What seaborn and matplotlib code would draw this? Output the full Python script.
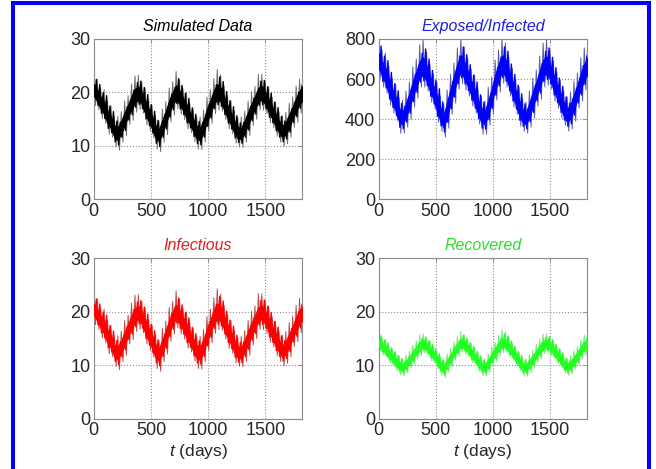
import numpy as np
import matplotlib
matplotlib.use('Agg')
import matplotlib.pyplot as plt
import matplotlib.patches as patches
import seaborn as sns

# time axis: samples every 30 days over five years
days = np.arange(0, 1831, 30)

# infectious counts (the simulated data are the observed infectious counts)
infectious_mid = [20.5, 19.3, 18.2, 17.0, 15.5, 14.3, 12.8, 12.2,
                  13.5, 15.0, 16.6, 18.0, 19.2, 19.8,
                  18.8, 17.2, 15.8, 14.3, 12.8, 12.0,
                  13.6, 15.4, 17.2, 18.8, 19.8,
                  19.0, 17.8, 16.5, 15.2, 13.8, 12.6, 12.1,
                  13.7, 15.5, 17.3, 18.9, 19.9,
                  19.3, 17.9, 16.5, 15.0, 13.6, 12.4, 12.2,
                  13.6, 15.1, 16.6, 18.0, 19.4, 19.8,
                  18.9, 17.5, 16.2, 14.9, 13.6, 12.6,
                  13.2, 14.6, 16.2, 17.6, 19.0, 19.8]
infectious_up = [2.8, 3.2, 2.6, 3.5, 2.9, 3.1, 2.7, 3.3,
                 2.9, 3.4, 2.8, 3.6, 3.9, 3.4,
                 3.1, 3.5, 2.8, 3.2, 2.9, 2.7,
                 3.3, 2.9, 3.6, 3.2, 4.1,
                 3.4, 3.0, 3.5, 2.8, 3.1, 2.9, 3.3,
                 3.0, 3.6, 3.2, 3.7, 4.4,
                 4.0, 3.3, 2.9, 3.4, 3.0, 2.8, 3.2,
                 2.9, 3.3, 3.5, 3.1, 4.0, 3.6,
                 3.2, 3.5, 2.9, 3.3, 2.8, 3.0,
                 3.1, 3.4, 3.0, 3.6, 3.5, 3.9]
infectious_down = [2.9, 2.6, 3.1, 2.8, 3.3, 2.7, 3.0, 3.0,
                   2.8, 3.1, 2.6, 3.2, 2.9, 3.0,
                   2.7, 3.2, 3.0, 2.8, 3.4, 3.1,
                   2.9, 3.3, 2.7, 3.0, 2.8,
                   3.1, 2.9, 3.3, 2.7, 3.0, 3.2, 2.8,
                   3.0, 2.7, 3.1, 2.9, 3.2,
                   2.8, 3.0, 3.3, 2.7, 3.1, 2.6, 2.5,
                   2.9, 3.2, 2.8, 3.0, 2.7, 3.1,
                   2.9, 3.2, 2.8, 3.1, 2.9, 2.7,
                   2.8, 3.0, 2.7, 3.2, 2.9, 3.6]

exposed_mid = [690, 650, 610, 565, 515, 470, 420, 400,
               440, 495, 545, 595, 640, 655,
               625, 575, 530, 480, 425, 390,
               445, 510, 575, 630, 668,
               640, 600, 555, 510, 460, 420, 405,
               455, 515, 575, 630, 665,
               650, 600, 555, 505, 455, 415, 400,
               445, 495, 545, 595, 645, 660,
               630, 585, 540, 495, 450, 415,
               435, 480, 535, 585, 630, 660]
exposed_up = [110, 95, 120, 100, 90, 105, 85, 95,
              100, 90, 115, 105, 130, 140,
              110, 100, 95, 105, 90, 85,
              100, 115, 105, 125, 135,
              120, 105, 95, 110, 90, 95, 85,
              105, 95, 120, 115, 140,
              130, 110, 100, 95, 105, 90, 85,
              95, 110, 100, 120, 135, 140,
              115, 105, 95, 100, 90, 95,
              100, 110, 95, 120, 125, 130]
exposed_down = [85, 90, 80, 95, 85, 75, 90, 70,
                80, 95, 85, 90, 80, 95,
                85, 90, 80, 95, 85, 80,
                90, 85, 95, 80, 90,
                95, 85, 90, 80, 85, 95, 80,
                85, 90, 80, 95, 85,
                90, 85, 95, 80, 90, 75, 70,
                85, 90, 80, 95, 85, 90,
                80, 95, 85, 90, 80, 75,
                85, 90, 80, 95, 85, 95]

recovered_mid = [14.3, 13.6, 12.9, 12.2, 11.4, 10.7, 10.0, 9.7,
                 10.2, 11.0, 11.9, 12.8, 13.6, 14.0,
                 13.5, 12.7, 11.9, 11.0, 10.0, 9.4,
                 10.3, 11.4, 12.5, 13.4, 14.1,
                 13.8, 13.1, 12.3, 11.5, 10.6, 9.9, 9.6,
                 10.4, 11.5, 12.5, 13.5, 14.1,
                 14.0, 13.3, 12.4, 11.5, 10.6, 9.8, 9.6,
                 10.3, 11.2, 12.1, 13.0, 13.8, 14.0,
                 13.6, 12.8, 12.0, 11.1, 10.3, 9.7,
                 10.1, 10.9, 11.9, 12.8, 13.6, 14.0]
recovered_up = [1.8, 1.6, 1.9, 1.5, 1.7, 1.6, 1.8, 1.5,
                1.7, 1.6, 1.9, 1.8, 2.1, 1.9,
                1.7, 1.8, 1.6, 1.7, 1.5, 1.6,
                1.8, 1.7, 1.9, 2.0, 2.2,
                1.9, 1.7, 1.8, 1.6, 1.7, 1.5, 1.6,
                1.7, 1.9, 1.8, 2.1, 2.6,
                2.2, 1.8, 1.7, 1.6, 1.8, 1.5, 1.6,
                1.7, 1.6, 1.8, 1.9, 2.0, 1.9,
                1.8, 1.7, 1.6, 1.8, 1.5, 1.6,
                1.7, 1.8, 1.6, 1.9, 2.0, 2.1]
recovered_down = [1.6, 1.7, 1.5, 1.8, 1.6, 1.7, 1.8, 1.7,
                  1.6, 1.5, 1.7, 1.6, 1.8, 1.7,
                  1.6, 1.8, 1.5, 1.7, 1.8, 1.7,
                  1.6, 1.7, 1.5, 1.8, 1.6,
                  1.7, 1.6, 1.8, 1.5, 1.7, 1.8, 1.6,
                  1.7, 1.5, 1.8, 1.6, 1.7,
                  1.6, 1.8, 1.5, 1.7, 1.6, 1.8, 1.7,
                  1.6, 1.7, 1.5, 1.8, 1.6, 1.7,
                  1.8, 1.6, 1.7, 1.5, 1.7, 1.6,
                  1.7, 1.6, 1.8, 1.5, 1.7, 1.9]

titles = ['Simulated Data', 'Exposed/Infected', 'Infectious', 'Recovered']
title_colors = ['#000000', '#1f1fdd', '#e81c1c', '#2be02b']
line_colors = ['#000000', '#0000ff', '#ff0000', '#22ff22']
spike_colors = ['#6e6e6e', '#5a5aa8', '#c04848', '#70ea70']
y_limits = [30, 800, 30, 30]
y_steps = [10, 200, 10, 10]

sns.set_style('white')
plt.rcParams['font.family'] = ['Liberation Sans', 'DejaVu Sans']
plt.rcParams['mathtext.fontset'] = 'custom'
plt.rcParams['mathtext.it'] = 'Liberation Sans:italic'
plt.rcParams['mathtext.rm'] = 'Liberation Sans'


def plot_noisy(ax, mid, up, down, color, spike_color):
    mid = np.array(mid, dtype=float)
    up = np.array(up, dtype=float)
    down = np.array(down, dtype=float)
    # outer spikes: zigzag between the upper and lower envelopes
    zx = np.column_stack([days, days + 15]).ravel()
    zy = np.column_stack([mid + up, mid - down]).ravel()
    sns.lineplot(x=zx, y=zy, ax=ax, sort=False, estimator=None,
                 color=spike_color, linewidth=0.7)
    # inner band: denser zigzag in the full colour, jagged edges
    cx = np.column_stack([days + 7, days + 22]).ravel()
    cy = np.column_stack([mid - 0.68 * down, mid + 0.68 * up]).ravel()
    sns.lineplot(x=cx, y=cy, ax=ax, sort=False, estimator=None,
                 color=color, linewidth=1.0)
    # solid middle
    ax.fill_between(days, mid - 0.38 * down, mid + 0.38 * up,
                    color=color, linewidth=0.8, edgecolor=color, zorder=3)


fig, axes = plt.subplots(2, 2, figsize=(6.56, 4.69), dpi=100)
fig.subplots_adjust(left=0.143, right=0.895, bottom=0.107, top=0.917,
                    wspace=0.365, hspace=0.368)

series = [(infectious_mid, infectious_up, infectious_down),
          (exposed_mid, exposed_up, exposed_down),
          (infectious_mid, infectious_up, infectious_down),
          (recovered_mid, recovered_up, recovered_down)]

for i, ax in enumerate(axes.flat):
    mid, up, down = series[i]
    plot_noisy(ax, mid, up, down, line_colors[i], spike_colors[i])
    ax.set_xlim(0, 1825)
    ax.set_ylim(0, y_limits[i])
    ax.set_xticks([0, 500, 1000, 1500])
    ax.set_yticks(np.arange(0, y_limits[i] + 1, y_steps[i]))
    ax.grid(True, linestyle=':', color='#8c8c8c', linewidth=0.8)
    ax.tick_params(direction='in', length=3, width=0.6, color='#888888',
                   labelsize=13, pad=2.5, top=True, right=True)
    for s in ax.spines.values():
        s.set_color('#8a8a8a')
        s.set_linewidth(0.8)
    ax.set_title(titles[i], color=title_colors[i], fontsize=11.5,
                 style='italic', pad=6)
    ax.set_ylabel('')
    if i >= 2:
        ax.set_xlabel('$t$ (days)', fontsize=12.5, labelpad=2)
    else:
        ax.set_xlabel('')

border = patches.Rectangle((0.0198, -0.1), 0.9695, 1.0936, transform=fig.transFigure,
                           fill=False, edgecolor='#0000ff', linewidth=2.9,
                           clip_on=False)
fig.patches.append(border)

fig.savefig('out.png', dpi=100)
